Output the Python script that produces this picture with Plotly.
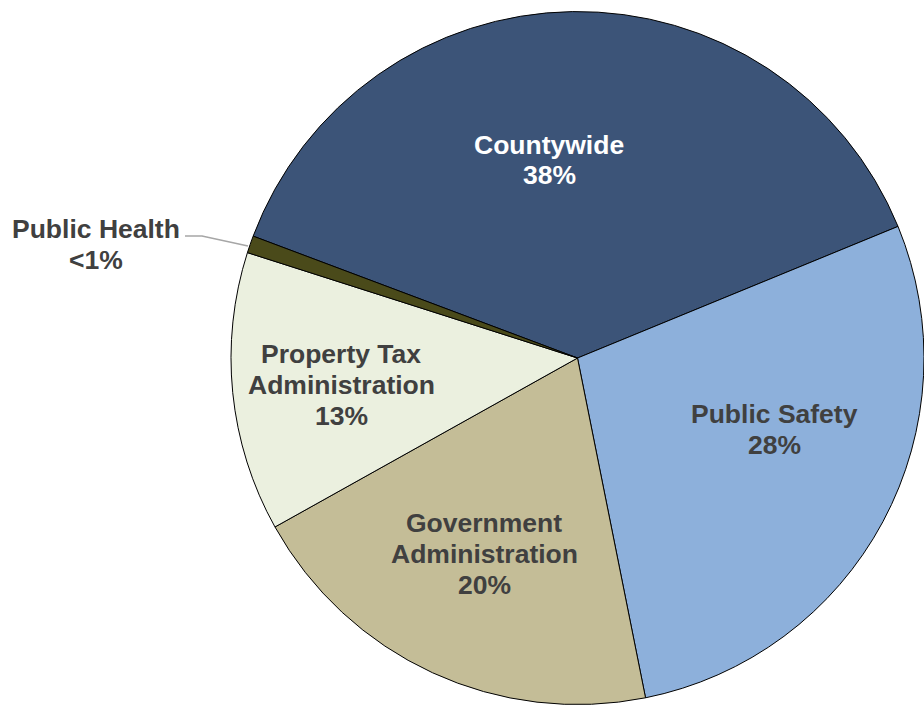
import plotly.graph_objects as go

# Budget shares by program area
categories = ["Countywide", "Public Safety", "Government Administration",
              "Property Tax Administration", "Public Health"]
label_lines = [["Countywide"], ["Public Safety"], ["Government", "Administration"],
               ["Property Tax", "Administration"], ["Public Health"]]
values = [38, 28, 20, 13, 0.8]
colors = ["#3C5478", "#8DB0DB", "#C4BD97", "#EBF0DF", "#4A4A1A"]
text_colors = ["#FFFFFF", "#404040", "#404040", "#404040", "#404040"]

W, H = 924, 709
LINE_GAP = 31  # pixels between label lines
FONT = "Liberation Sans, Arial, sans-serif"


def px(x, y):
    """Pixel position -> paper coordinates."""
    return x / W, 1 - y / H


def pct(v):
    return "<1%" if v < 1 else f"{v:.0f}%"


fig = go.Figure(go.Pie(
    labels=categories,
    values=values,
    sort=False,
    direction="clockwise",
    rotation=-69.4,
    marker=dict(colors=colors, line=dict(color="#000000", width=1)),
    textinfo="none",
    hoverinfo="label+percent",
    showlegend=False,
    domain=dict(x=[0.25, 1.0], y=[0.0, 0.99]),
))

# Label anchor points (pixel centres of each text block)
label_pos = [(549, 160), (774, 429), (484, 554), (341, 385), (96, 244)]

annotations = []
for lines, v, c, (lx, ly) in zip(label_lines, values, text_colors, label_pos):
    rows = lines + [pct(v)]
    top = ly - LINE_GAP * (len(rows) - 1) / 2
    for i, row in enumerate(rows):
        ax, ay = px(lx, top + i * LINE_GAP)
        annotations.append(dict(
            x=ax, y=ay, xref="paper", yref="paper",
            text=f"<b>{row}</b>",
            showarrow=False, align="center",
            xanchor="center", yanchor="middle",
            font=dict(family=FONT, size=26.5, color=c),
        ))

# Leader line for the thin Public Health slice
p0, p1, p2 = px(185, 236), px(202, 236), px(248, 246)
leader = dict(
    type="path", xref="paper", yref="paper",
    path=f"M {p0[0]},{p0[1]} L {p1[0]},{p1[1]} L {p2[0]},{p2[1]}",
    line=dict(color="#A6A6A6", width=1.5),
)

fig.update_layout(
    width=W, height=H,
    margin=dict(l=0, r=0, t=0, b=0),
    paper_bgcolor="#FFFFFF",
    plot_bgcolor="#FFFFFF",
    annotations=annotations,
    shapes=[leader],
)

fig.write_html("out.html")
